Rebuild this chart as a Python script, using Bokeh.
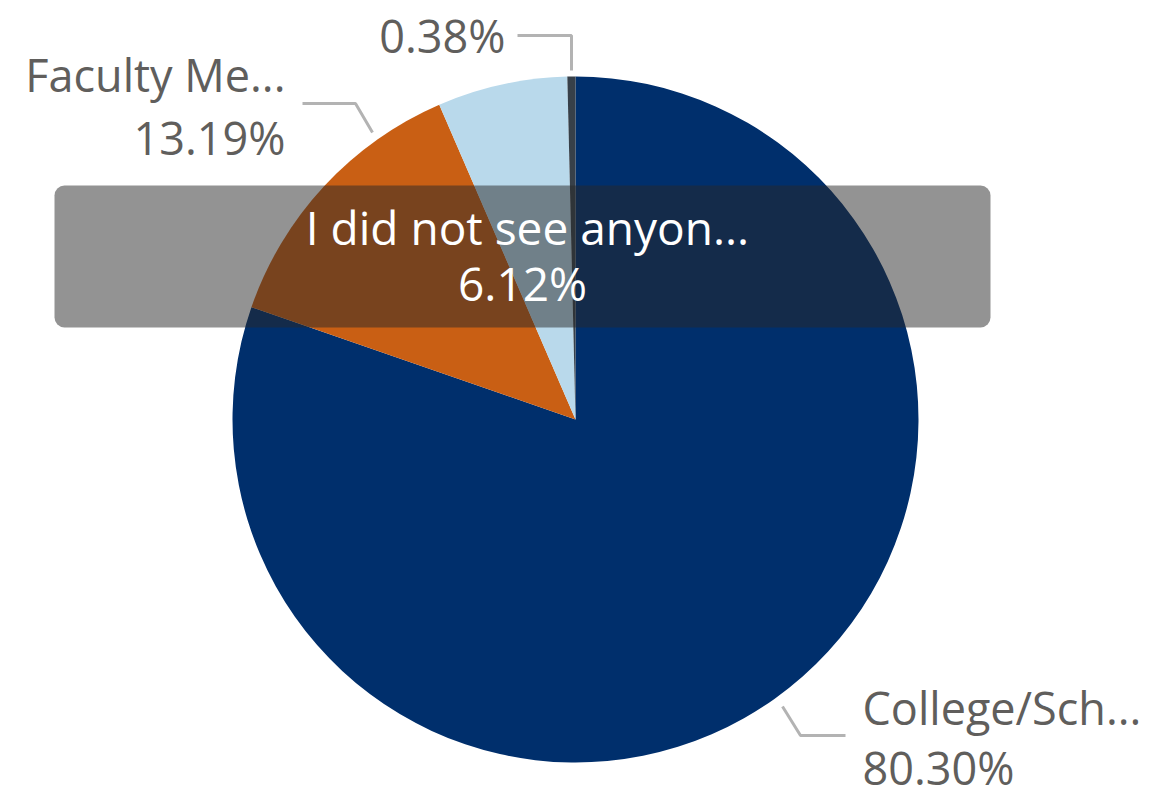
import numpy as np
from bokeh.plotting import figure
from bokeh.models import Range1d, BoxAnnotation, ColumnDataSource
from bokeh.core.properties import value
from bokeh.embed import file_html
from bokeh.resources import INLINE

# ---- data ----
categories = ["College/Sch...", "Faculty Me...", "I did not see anyon...", ""]
percents = [80.30, 13.19, 6.12, 0.38]
pct_labels = ["80.30%", "13.19%", "6.12%", "0.38%"]
colors = ["#002F6C", "#C95F14", "#B9D9EB", "#374049"]

W, H = 1152, 793
def sy(y):
    return 793 - y

TOFF = 18  # baseline correction for rendered text
def ty(y):
    return sy(y - TOFF)

p = figure(width=W, height=H, x_range=Range1d(0, W), y_range=Range1d(0, H),
           output_backend="svg", toolbar_location=None, min_border=0,
           background_fill_color="white", border_fill_color="white")
p.axis.visible = False
p.grid.visible = False
p.outline_line_color = None

cx, cy, r = 575, sy(419), 343
vals = np.array(percents)
cum = np.cumsum(vals) / vals.sum()
before = np.concatenate([[0], cum[:-1]])
starts = np.pi / 2 - before * 2 * np.pi
ends = np.pi / 2 - cum * 2 * np.pi
src = ColumnDataSource(dict(start=starts, end=ends, color=colors))
p.wedge(x=cx, y=cy, radius=r, start_angle="start", end_angle="end", direction="clock",
        fill_color="color", line_color=None, source=src)

# leader lines
lc = "#B3B3B3"
p.multi_line(xs=[[517, 571, 571], [302, 355, 372], [782, 800, 845]],
             ys=[[sy(35), sy(35), sy(70)], [sy(103), sy(103), sy(132)], [sy(706), sy(735), sy(735)]],
             line_color=lc, line_width=3)

font = value("Open Sans")
tc = "#605E5C"
fs = "45px"
# outside labels
p.text(x=[505], y=[ty(53)], text=[pct_labels[3]], text_align="right", text_baseline="alphabetic",
       text_font=font, text_font_size=fs, text_color=tc)
p.text(x=[285, 285], y=[ty(92), ty(155)], text=[categories[1], pct_labels[1]], text_align="right",
       text_baseline="alphabetic", text_font=font, text_font_size=fs, text_color=tc)
p.text(x=[862, 862], y=[ty(725), ty(785)], text=[categories[0], pct_labels[0]], text_align="left",
       text_baseline="alphabetic", text_font=font, text_font_size=fs, text_color=tc)

# tooltip-like overlay label
box = BoxAnnotation(left=54, right=990, top=sy(185), bottom=sy(327), fill_color="#282828",
                    fill_alpha=0.5, line_color=None, border_radius=10)
p.add_layout(box)
t = p.text(x=[527, 522], y=[ty(244), ty(300)], text=[categories[2], pct_labels[2]], text_align="center",
           text_baseline="alphabetic", text_font=font, text_font_size="46px", text_color="white")
t.level = "overlay"

open("out.html", "w").write(file_html(p, INLINE))
